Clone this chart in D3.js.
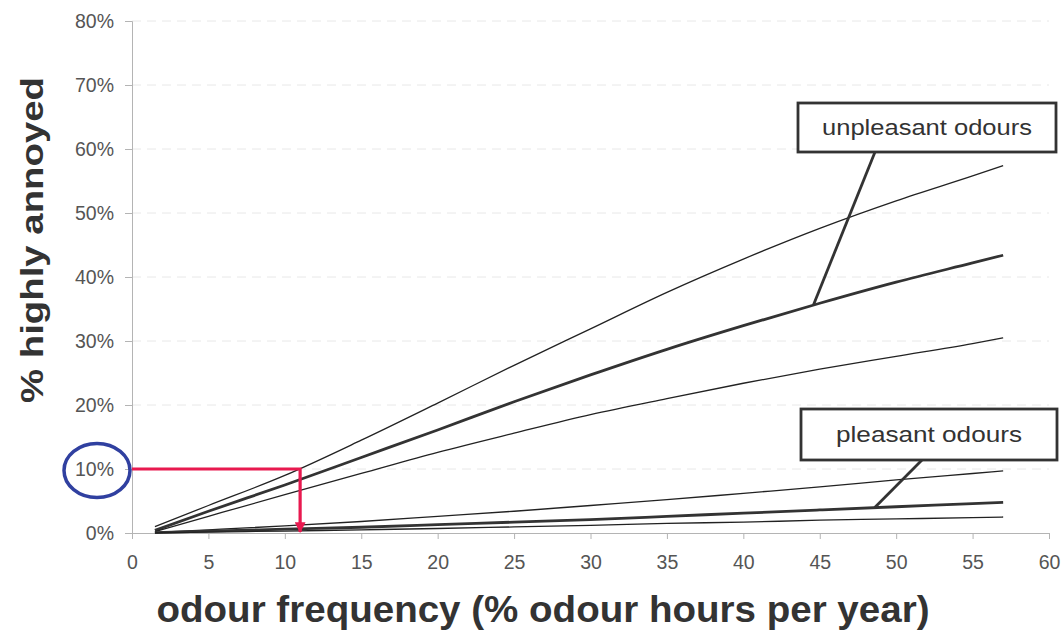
<!DOCTYPE html>
<html>
<head>
<meta charset="utf-8">
<script src="https://cdn.jsdelivr.net/npm/d3@7"></script>
<style>
    body { margin: 0; background: #fff; }
    svg { display: block; font-family: "Liberation Sans", Arial, sans-serif; }
</style>
</head>
<body>
<svg></svg>
<script>

// Odour frequency (% odour hours per year) at which each curve is read.
var frequency = [1.5, 5, 10, 15, 20, 25, 30, 35, 40, 45, 50, 55, 57];

// % highly annoyed, unpleasant odours (upper bound, estimate, lower bound).
var unpleasantUpper = [1.0, 4.3, 9.0, 14.5, 20.3, 26.2, 31.9, 37.6, 42.8, 47.6, 51.9, 55.8, 57.4];
var unpleasantMid   = [0.4, 3.4, 7.5, 11.8, 16.1, 20.5, 24.7, 28.7, 32.4, 35.9, 39.2, 42.2, 43.4];
var unpleasantLower = [0.2, 2.6, 6.0, 9.3, 12.6, 15.6, 18.5, 21.0, 23.4, 25.6, 27.6, 29.6, 30.5];

// % highly annoyed, pleasant odours.
var pleasantUpper = [0.1, 0.5, 1.1, 1.8, 2.6, 3.4, 4.3, 5.2, 6.2, 7.2, 8.3, 9.3, 9.7];
var pleasantMid   = [0.05, 0.3, 0.6, 0.9, 1.3, 1.7, 2.1, 2.6, 3.1, 3.6, 4.1, 4.6, 4.8];
var pleasantLower = [0.02, 0.15, 0.3, 0.5, 0.7, 0.95, 1.2, 1.5, 1.7, 2.0, 2.2, 2.4, 2.5];

var xTicks = [0, 5, 10, 15, 20, 25, 30, 35, 40, 45, 50, 55, 60];
var yTicks = [0, 10, 20, 30, 40, 50, 60, 70, 80];

var exampleLevel = 10;
var exampleFrequency = 11;

// Callout labels and the point on the curve they point to.
var calloutLabels = ['unpleasant odours', 'pleasant odours'];
var calloutTargets = [[44.6, 35.7], [48.6, 4.0]];


//==============================================================================
// Set up.

var margin = { top: 21, right: 14, bottom: 102, left: 132 };
var width = 1063 - margin.left - margin.right;
var height = 635 - margin.top - margin.bottom;

var svg = d3.select('svg')
    .attr('width', 1063)
    .attr('height', 635)
;

var chart = svg.append('g')
    .attr('transform', 'translate(' + margin.left + ',' + margin.top + ')')
;

var xScale = d3.scaleLinear().domain([0, 60]).range([0, width]);
var yScale = d3.scaleLinear().domain([0, 80]).range([height, 0]);


//==============================================================================
// Grid and axes.

chart.append('g')
    .selectAll('line')
    .data(yTicks.slice(1))
    .enter()
    .append('line')
    .attr('x1', 0)
    .attr('x2', width)
    .attr('y1', function(d) { return yScale(d); })
    .attr('y2', function(d) { return yScale(d); })
    .style('stroke', '#e8e8e8')
    .style('stroke-width', 1)
    .style('stroke-dasharray', '9,6')
;

var yAxis = chart.append('g')
    .call(d3.axisLeft(yScale)
        .tickValues(yTicks)
        .tickSize(7)
        .tickPadding(11)
        .tickFormat(function(d) { return d + '%'; }))
;

var xAxis = chart.append('g')
    .attr('transform', 'translate(0,' + height + ')')
    .call(d3.axisBottom(xScale)
        .tickValues(xTicks)
        .tickSize(6)
        .tickPadding(16))
;

[yAxis, xAxis].forEach(function(axis) {
    axis.select('.domain').style('stroke', '#b4b4b4');
    axis.selectAll('.tick line').style('stroke', '#b4b4b4');
    axis.selectAll('.tick text')
        .style('font-size', '19.5px')
        .style('fill', '#555')
        .style('font-family', '"Liberation Sans", Arial, sans-serif')
    ;
});


//==============================================================================
// Curves.

var line = d3.line()
    .x(function(d) { return xScale(d[0]); })
    .y(function(d) { return yScale(d[1]); })
    .curve(d3.curveMonotoneX)
;

var series = [
    { values: unpleasantUpper, thick: false },
    { values: unpleasantMid,   thick: true },
    { values: unpleasantLower, thick: false },
    { values: pleasantUpper,   thick: false },
    { values: pleasantMid,     thick: true },
    { values: pleasantLower,   thick: false }
];

chart.selectAll('.curve')
    .data(series)
    .enter()
    .append('path')
    .classed('curve', true)
    .attr('d', function(s) {
        return line(d3.zip(frequency, s.values));
    })
    .style('fill', 'none')
    .style('stroke', function(s) { return s.thick ? '#333' : '#222'; })
    .style('stroke-width', function(s) { return s.thick ? 2.8 : 1.3; })
;


//==============================================================================
// Worked example: red reading line and blue circle round the 10% label.

svg.append('defs').append('marker')
    .attr('id', 'arrow')
    .attr('viewBox', '0 0 10 10')
    .attr('refX', 9)
    .attr('refY', 5)
    .attr('markerWidth', 3.4)
    .attr('markerHeight', 3.4)
    .attr('orient', 'auto')
    .append('path')
    .attr('d', 'M0,0 L10,5 L0,10 Z')
    .style('fill', '#e8194f')
;

var redPath = d3.path();
redPath.moveTo(xScale(0), yScale(exampleLevel));
redPath.lineTo(xScale(exampleFrequency), yScale(exampleLevel));
redPath.lineTo(xScale(exampleFrequency), yScale(0) - 1);

chart.append('path')
    .attr('d', redPath.toString())
    .attr('marker-end', 'url(#arrow)')
    .style('fill', 'none')
    .style('stroke', '#e8194f')
    .style('stroke-width', 3.2)
;

chart.append('ellipse')
    .attr('cx', -35)
    .attr('cy', yScale(exampleLevel) + 1.5)
    .attr('rx', 33)
    .attr('ry', 27)
    .style('fill', 'none')
    .style('stroke', '#3040a0')
    .style('stroke-width', 3.5)
;


//==============================================================================
// Callout boxes.

var boxes = [
    { x: 798, y: 103, w: 258, h: 49, anchorX: 875, textWidth: 210 },
    { x: 801, y: 409, w: 256, h: 51, anchorX: 922, textWidth: 186 }
];

boxes.forEach(function(b, i) {
    var target = calloutTargets[i];
    svg.append('line')
        .attr('x1', b.anchorX)
        .attr('y1', b.y + b.h)
        .attr('x2', margin.left + xScale(target[0]))
        .attr('y2', margin.top + yScale(target[1]))
        .style('stroke', '#333')
        .style('stroke-width', 2.8)
    ;
    svg.append('rect')
        .attr('x', b.x)
        .attr('y', b.y)
        .attr('width', b.w)
        .attr('height', b.h)
        .style('fill', '#fff')
        .style('stroke', '#333')
        .style('stroke-width', 2.8)
    ;
    svg.append('text')
        .attr('x', b.x + b.w / 2)
        .attr('y', b.y + b.h / 2 + 7)
        .attr('text-anchor', 'middle')
        .attr('textLength', b.textWidth)
        .attr('lengthAdjust', 'spacingAndGlyphs')
        .style('font-size', '22px')
        .style('fill', '#333')
        .text(calloutLabels[i])
    ;
});


//==============================================================================
// Axis titles.

svg.append('text')
    .attr('transform', 'translate(43,' + 240 + ') rotate(-90)')
    .attr('text-anchor', 'middle')
    .attr('textLength', 326)
    .attr('lengthAdjust', 'spacingAndGlyphs')
    .style('font-size', '32px')
    .style('font-weight', 'bold')
    .style('fill', '#333')
    .text('% highly annoyed')
;

svg.append('text')
    .attr('x', 543)
    .attr('y', 622)
    .attr('text-anchor', 'middle')
    .attr('textLength', 773)
    .attr('lengthAdjust', 'spacingAndGlyphs')
    .style('font-size', '36px')
    .style('font-weight', 'bold')
    .style('fill', '#333')
    .text('odour frequency (% odour hours per year)')
;

</script>
</body>
</html>
